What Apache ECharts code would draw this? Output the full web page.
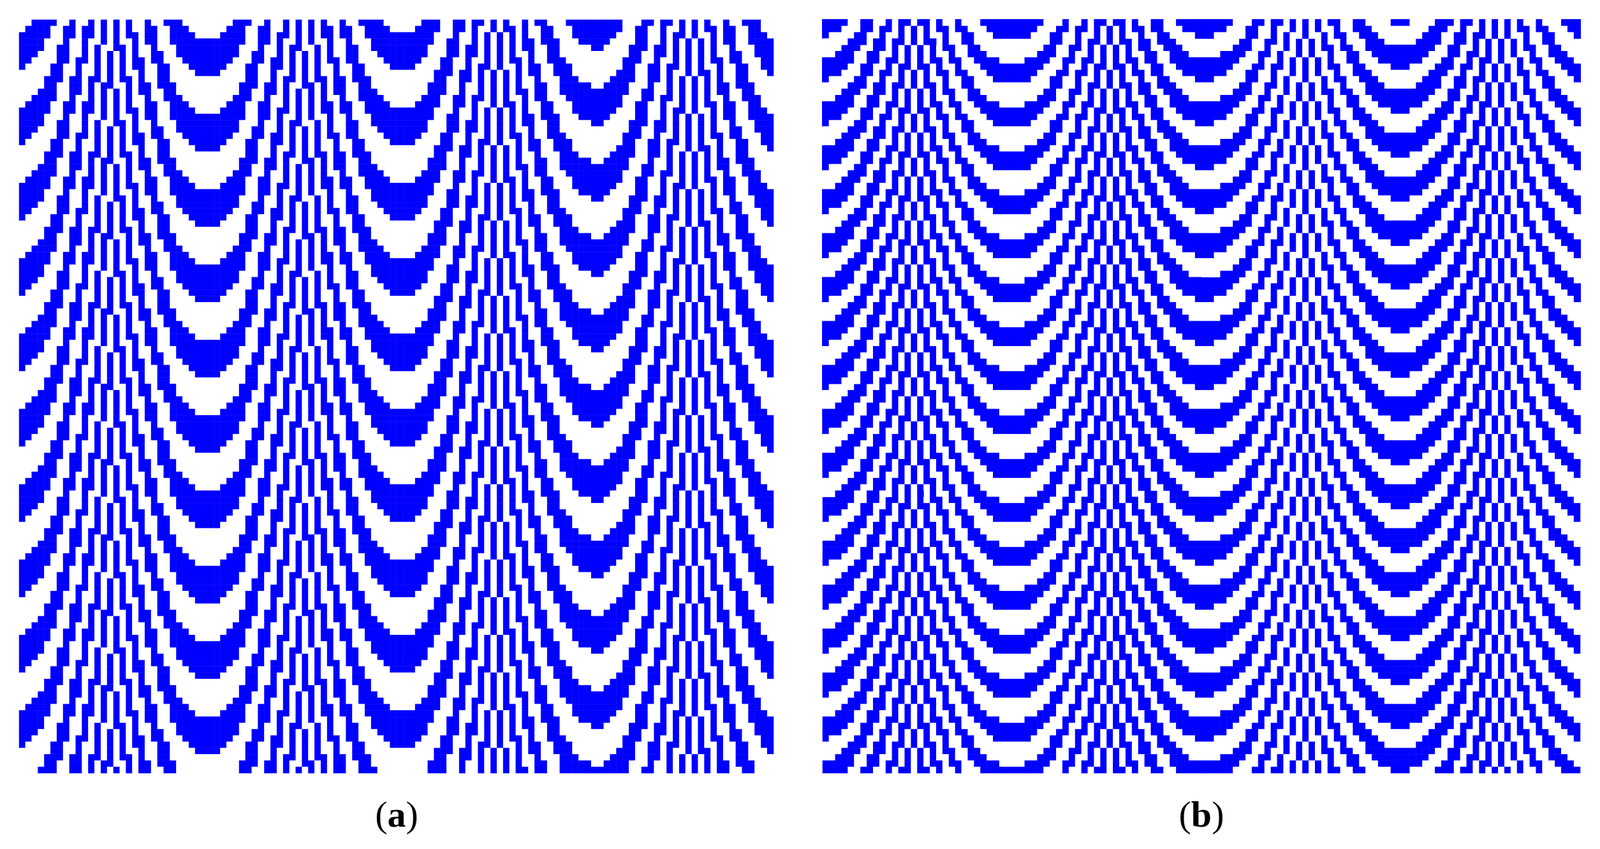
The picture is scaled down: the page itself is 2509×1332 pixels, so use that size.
<!DOCTYPE html>
<html><head><meta charset="utf-8">
<script src="https://cdn.jsdelivr.net/npm/echarts@6/dist/echarts.min.js"></script>
<style>html,body{margin:0;padding:0;background:#fff}#c{width:2509px;height:1332px}</style>
</head><body><div id="c"></div>
<script>
// Grid size (cells per side)
const gridCols = 120;
const gridRows = 120;
// Panel (a): arch centre column, arch spacing (columns), vertical band period (rows), row phase
const archCentreA = [30];
const archSpacingA = [30.8];
const bandPeriodA = [12];
const rowPhaseA = [3];
// Panel (b)
const archCentreB = [30];
const archSpacingB = [30.8];
const bandPeriodB = [7];
const rowPhaseB = [4];
const panelLabels = ['a', 'b'];

function cells(c, s, p, y0) {
  const out = [];
  for (let y = 0; y < gridRows; y++) {
    for (let x = 0; x < gridCols; x++) {
      const d = x + 0.5 - c;
      const phi = d * d / s + (y + y0) / (p / 2);
      out.push([x, y, Math.floor(phi) % 2]);
    }
  }
  return out;
}
const cats = Array.from({length: gridCols}, (_, i) => i);
const rcats = Array.from({length: gridRows}, (_, i) => i);
const dataA = cells(archCentreA[0], archSpacingA[0], bandPeriodA[0], rowPhaseA[0]);
const dataB = cells(archCentreB[0], archSpacingB[0], bandPeriodB[0], rowPhaseB[0]);

const chart = echarts.init(document.getElementById('c'));
const ax = (i) => ({type: 'category', data: cats, gridIndex: i, show: false});
const ay = (i) => ({type: 'category', data: rcats, gridIndex: i, show: false, inverse: true});
chart.setOption({
  animation: false,
  backgroundColor: '#fff',
  grid: [
    {left: 30, top: 31, width: 1183, height: 1182},
    {left: 1290, top: 31, width: 1188, height: 1182}
  ],
  xAxis: [ax(0), ax(1)],
  yAxis: [ay(0), ay(1)],
  visualMap: {
    type: 'piecewise', show: false, dimension: 2, seriesIndex: [0, 1],
    pieces: [{value: 1, color: '#0000ff'}, {value: 0, color: '#ffffff'}]
  },
  series: [
    {type: 'heatmap', xAxisIndex: 0, yAxisIndex: 0, data: dataA, itemStyle: {borderWidth: 0}},
    {type: 'heatmap', xAxisIndex: 1, yAxisIndex: 1, data: dataB, itemStyle: {borderWidth: 0}}
  ],
  graphic: panelLabels.map((l, i) => ({
    type: 'text', x: i === 0 ? 622 : 1884, y: 1282,
    style: {
      text: '{p|(}{b|' + l + '}{p|)}', align: 'center', verticalAlign: 'middle',
      rich: {
        p: {fontFamily: 'Liberation Serif', fontSize: 58, fill: '#000'},
        b: {fontFamily: 'Liberation Serif', fontSize: 58, fontWeight: 'bold', fill: '#000'}
      }
    }
  }))
});
</script></body></html>
